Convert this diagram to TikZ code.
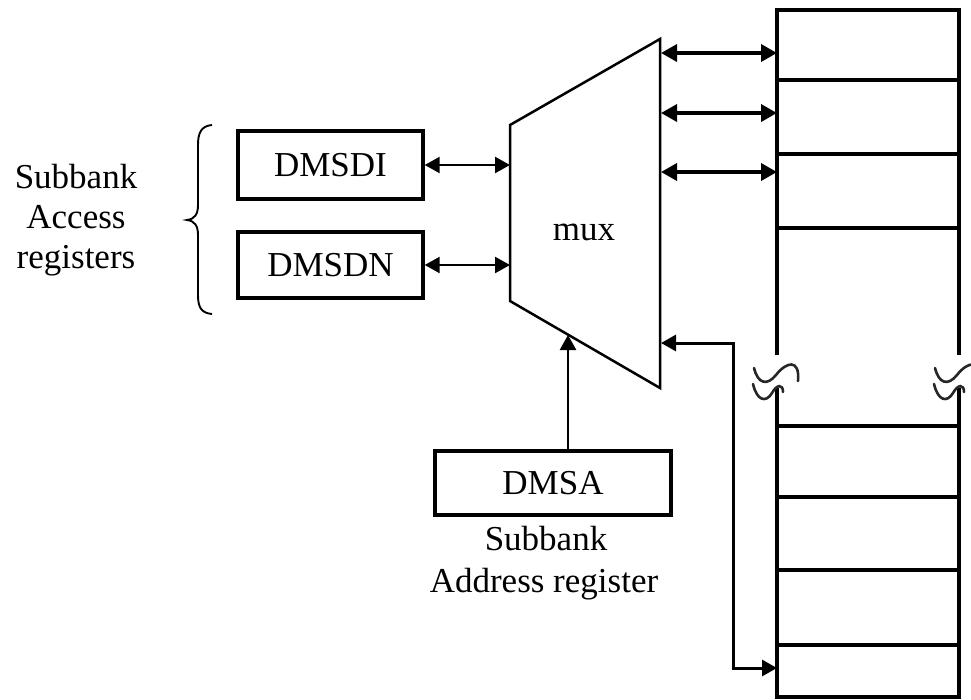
\documentclass[tikz,border=0pt]{standalone}
\usepackage{fontspec}
\setmainfont{Liberation Serif}
\usetikzlibrary{arrows.meta}
\begin{document}
\begin{tikzpicture}[x=1pt,y=-1pt,
  box/.style={draw, line width=3.4pt, inner sep=0pt, font=\fontsize{35}{40}\selectfont},
  lbl/.style={font=\fontsize{35}{40}\selectfont, inner sep=0pt, anchor=base},
  dblthin/.style={{Triangle[length=15pt,width=16pt]}-{Triangle[length=15pt,width=16pt]}, line width=2.3pt},
  dblthick/.style={{Triangle[length=16pt,width=17pt]}-{Triangle[length=16pt,width=17pt]}, line width=3.6pt},
  uparr/.style={-{Triangle[length=15pt,width=16pt]}, line width=2.5pt},
  memline/.style={line width=3.6pt},
  brk/.style={line width=2.6pt, black!85, line cap=round}
]
\useasboundingbox (0,0) rectangle (971,699);

% left labels and brace
\node[lbl] (l1) at (76,188) {Subbank};
\node[lbl] (l2) at (76,228) {Access};
\node[lbl] (l3) at (76,268) {registers};
\draw[line width=1.9pt] (212,125) .. controls (201,126) and (198,133) .. (198,145) -- (198,205)
  .. controls (198,214) and (195,219) .. (187,220)
  .. controls (195,221) and (198,226) .. (198,235) -- (198,295)
  .. controls (198,307) and (201,313) .. (212,314);

% registers
\node[box, minimum width=185pt, minimum height=68pt] (dmsdi) at (330.5,165) {DMSDI};
\node[box, minimum width=185pt, minimum height=66pt] (dmsdn) at (330.5,265) {DMSDN};
\node[box, minimum width=236pt, minimum height=64pt] (dmsa) at (553,483) {DMSA};
\node[lbl] (s1) at (546,550) {Subbank};
\node[lbl] (s2) at (544,592) {Address register};

% mux
\coordinate (m1) at (510,125);
\coordinate (m2) at (660,39);
\coordinate (m3) at (660,388);
\coordinate (m4) at (510,301);
\draw[line width=2.5pt, line join=miter] (m1) -- (m2) -- (m3) -- (m4) -- cycle;
\node[lbl] (mux) at (584,240) {mux};

\draw[dblthin] (dmsdi.east) -- (dmsdi.east -| m1);
\draw[dblthin] (dmsdn.east) -- (dmsdn.east -| m1);
\coordinate (muxin) at (568,335);
\draw[uparr] (dmsa.north -| muxin) -- (muxin);

% memory column
\coordinate (ml) at (777,10);
\coordinate (mr) at (959,10);
\draw[memline, line join=miter] (777,355) -- (777,10) -- (959,10) -- (959,355);
\draw[memline] (777,80) -- (959,80);
\draw[memline] (777,154) -- (959,154);
\draw[memline] (777,228) -- (959,228);
\draw[memline] (777,388) -- (777,699);
\draw[memline] (959,388) -- (959,699);
\foreach \yy in {426,497,570,645,697}{\draw[memline] (777,\yy) -- (959,\yy);}

% break marks
\foreach \dx in {0,181}{
  \begin{scope}[xshift=\dx]
  \draw[brk] (754,368) .. controls (758,384) and (767,386) .. (776,375)
     .. controls (786,362) and (800,358) .. (798,381);
  \draw[brk] (753,384) .. controls (757,401) and (766,403) .. (772,393)
     .. controls (777,384) and (783,384) .. (783,392);
  \end{scope}
}

% mux to memory arrows
\foreach \yy/\nm in {53/a,113/b,172/c}{
  \coordinate (\nm L) at (661,\yy);
  \coordinate (\nm R) at (777,\yy);
  \draw[dblthick] (\nm L) -- (\nm R);
}
\coordinate (p1) at (661,343);
\coordinate (k) at (733,0);
\coordinate (p2) at (777,668);
\draw[{Triangle[length=15pt,width=16pt]}-{Triangle[length=15pt,width=16pt]}, line width=3pt] (p1) -- (p1 -| k) -- (k |- p2) -- (p2);
\end{tikzpicture}
\end{document}
